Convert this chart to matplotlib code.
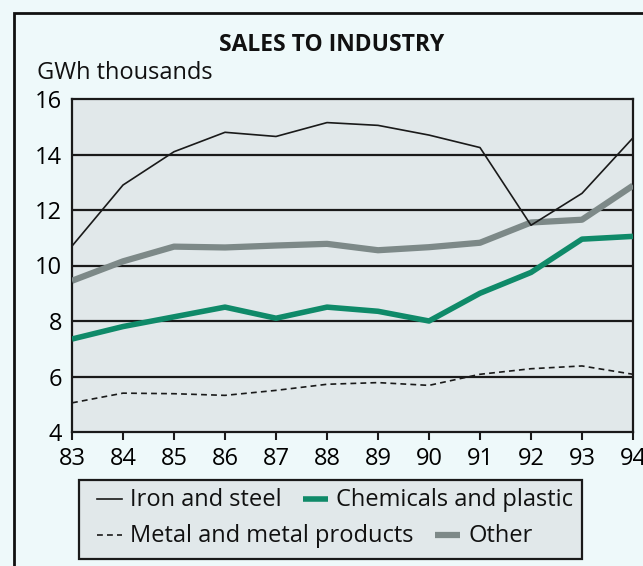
import numpy as np
import matplotlib.pyplot as plt
from matplotlib.patches import Rectangle
from matplotlib.lines import Line2D

plt.rcParams['font.family'] = ['Open Sans', 'DejaVu Sans']

years = [83, 84, 85, 86, 87, 88, 89, 90, 91, 92, 93, 94]
iron_steel = [10.7, 12.9, 14.1, 14.8, 14.65, 15.15, 15.05, 14.7, 14.25, 11.45, 12.6, 14.6]
chemicals = [7.35, 7.8, 8.15, 8.5, 8.1, 8.5, 8.35, 8.0, 9.0, 9.75, 10.95, 11.05]
metal = [5.05, 5.4, 5.38, 5.32, 5.5, 5.72, 5.78, 5.68, 6.08, 6.28, 6.38, 6.08]
other = [9.45, 10.15, 10.68, 10.65, 10.72, 10.78, 10.55, 10.66, 10.82, 11.55, 11.65, 12.88]
yticks = [4, 6, 8, 10, 12, 14, 16]

bg = '#eef9fa'
plot_bg = '#e1e8ea'
ink = '#1a1a1a'
W, H = 643, 566


def fx(x):
    return x / W


def fy(y):
    return 1 - y / H


styles = {
    'Iron and steel': dict(color=ink, lw=1.2),
    'Chemicals and plastic': dict(color='#0f8a69', lw=4, solid_capstyle='butt'),
    'Metal and metal products': dict(color=ink, lw=1.2, ls=(0, (3.5, 2.5))),
    'Other': dict(color='#7d8988', lw=4.5, solid_capstyle='butt'),
}

fig = plt.figure(figsize=(W / 100, H / 100), dpi=100, facecolor=bg)
ax = fig.add_axes([fx(72), fy(432), fx(633 - 72), (432 - 99) / H])
ax.set_facecolor(plot_bg)

# outer frame (cut off at right and bottom)
fig.patches.append(Rectangle((fx(14), -0.05), 1.2, fy(13) + 0.05,
                             transform=fig.transFigure, fill=False,
                             edgecolor='#111111', lw=2))

for y in yticks[1:-1]:
    ax.axhline(y, color=ink, lw=1.6, zorder=1)

ax.plot(years, other, zorder=3, **styles['Other'])
ax.plot(years, chemicals, zorder=3, **styles['Chemicals and plastic'])
ax.plot(years, iron_steel, zorder=4, **styles['Iron and steel'])
ax.plot(years, metal, zorder=4, **styles['Metal and metal products'])

ax.set_xlim(83, 94)
ax.set_ylim(4, 16)
ax.set_xticks(years)
ax.set_xticklabels([str(y) for y in years], fontsize=17)
ax.set_yticks(yticks)
ax.set_yticklabels([str(y) for y in yticks], fontsize=17)
ax.tick_params(axis='x', direction='out', length=6, width=1.5, pad=5, color=ink)
ax.tick_params(axis='y', length=0, pad=7)
for s in ax.spines.values():
    s.set_color(ink)
    s.set_linewidth(1.6)

fig.text(fx(332), fy(45), 'SALES TO INDUSTRY', ha='center', va='center',
         fontsize=16.5, fontweight='bold', color='#111111')
fig.text(fx(37), fy(73), 'GWh thousands', ha='left', va='center',
         fontsize=17, color='#111111')

# legend box drawn by hand: entries flow along each row
fig.patches.append(Rectangle((fx(79), fy(559)), fx(582 - 79), (559 - 480) / H,
                             transform=fig.transFigure, facecolor=plot_bg,
                             edgecolor=ink, lw=1.6))
entries = [
    ('Iron and steel', 97, 499), ('Chemicals and plastic', 303, 499),
    ('Metal and metal products', 97, 535), ('Other', 435, 535),
]
for label, x0, yc in entries:
    fig.add_artist(Line2D([fx(x0), fx(x0 + 25)], [fy(yc), fy(yc)],
                          transform=fig.transFigure, **styles[label]))
    fig.text(fx(x0 + 33), fy(yc + 1), label, ha='left', va='center',
             fontsize=17, color='#111111')

fig.savefig('out.png', dpi=100, facecolor=bg)
